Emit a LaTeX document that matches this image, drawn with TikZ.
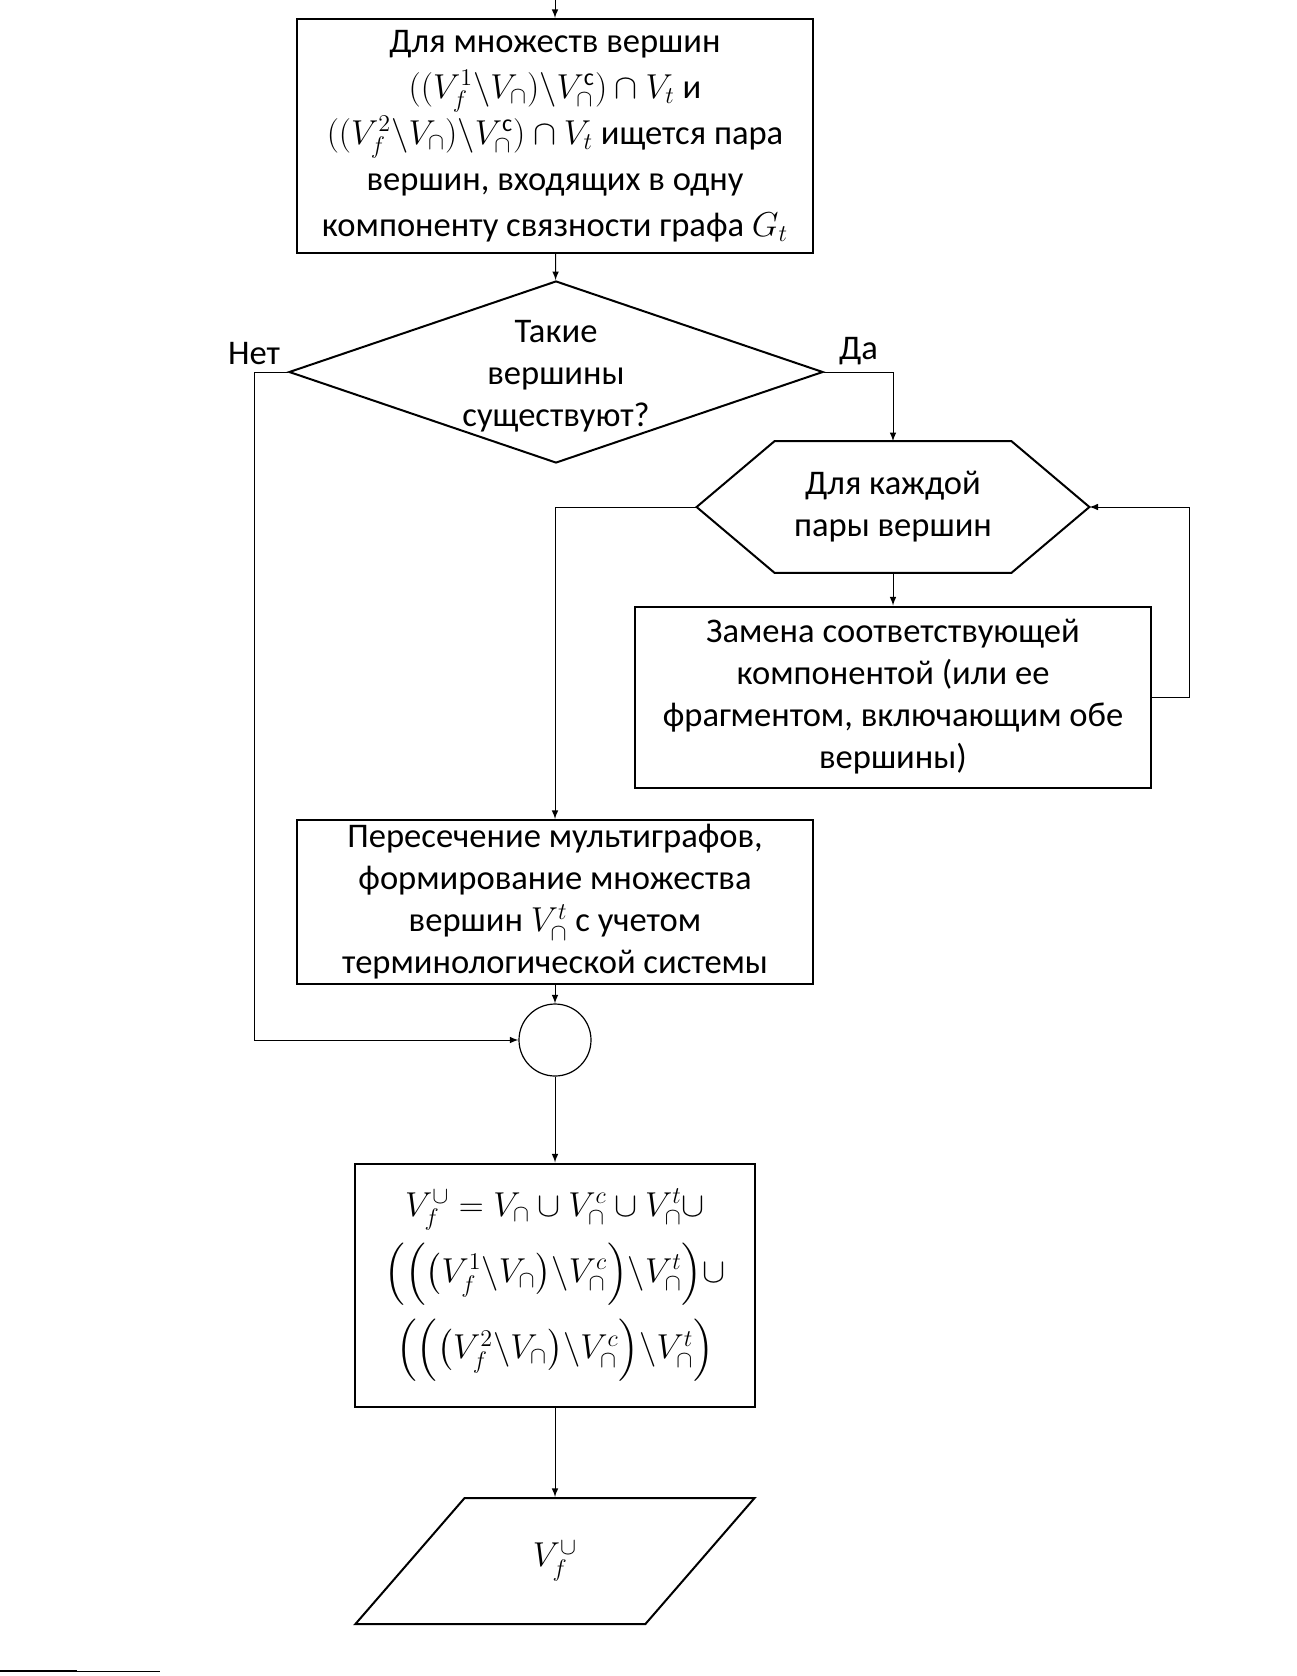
\documentclass[tikz,border=0pt]{standalone}
\usepackage{amsmath}
\usepackage{amssymb}
\usepackage{fontspec}
\setmainfont{Carlito}
\usetikzlibrary{shapes.geometric}
\tikzset{
  block/.style    = {shape=rectangle, draw, line width=1pt, align=center,
                     minimum width=258pt, inner sep=0pt},
  decision/.style = {shape=diamond, draw, line width=1pt,
                     minimum width=267pt, minimum height=91pt, inner sep=0pt},
  hexbox/.style   = {shape=rectangle, align=center, inner sep=0pt,
                     minimum width=118pt, minimum height=65.5pt},
  junction/.style = {shape=circle, draw, line width=0.6pt,
                     minimum size=36pt, inner sep=0pt},
  datanode/.style = {shape=trapezium, draw, line width=1pt,
                     trapezium left angle=57, trapezium right angle=123,
                     trapezium stretches=true,
                     minimum width=200pt, minimum height=63pt},
  flow/.style     = {draw, -latex, line width=0.5pt}
}

\begin{document}
\begin{tikzpicture}
  [
    x=0.5pt, y=-0.5pt,
    every node/.style = {font=\fontsize{17.28}{21}\selectfont}
  ]
  \useasboundingbox (0,0) rectangle (1296,1676);
  \coordinate (start) at (555,0);
  \node [block, minimum height=117pt, font=\fontsize{17.28}{23}\selectfont] (search) at (555,136)
    {Для множеств вершин\\
     $((V_f^1\backslash V_\cap)\backslash V_\cap^{\mathrm{c}})\cap V_t$ и\\
     $((V_f^2\backslash V_\cap)\backslash V_\cap^{\mathrm{c}})\cap V_t$ ищется пара\\
     вершин, входящих в одну\\
     компоненту связности графа $G_t$};
  \node [decision] (exist) at (556,372) {};
  \node [align=center, yshift=-2pt] (existtext) at (exist) {Такие\\вершины\\существуют?};
  \node [hexbox] (each) at (893,507) {Для каждой\\пары вершин};
  \draw [line width=1pt] (each.north west) -- (each.north east)
    -- ([xshift=39pt]each.east) coordinate (eachE)
    -- (each.south east) -- (each.south west)
    -- ([xshift=-39pt]each.west) coordinate (eachW) -- cycle;
  \node [block, minimum height=90.5pt] (replace) at (893,697)
    {Замена соответствующей\\компонентой (или ее\\фрагментом, включающим обе\\вершины)};
  \node [block, minimum height=82pt] (cross) at (555,902)
    {Пересечение мультиграфов,\\формирование множества\\вершин $V_\cap^t$ с учетом\\терминологической системы};
  \node [junction] (merge) at (555,1040) {};
  \node [block, minimum width=200pt, minimum height=121.5pt] (union) at (555,1285)
    {$V_f^{\cup}=V_\cap\cup V_\cap^c\cup V_\cap^t\cup$\\[5pt]
     $\Bigl(\Bigl(\bigl(V_f^1\backslash V_\cap\bigr)\backslash V_\cap^c\Bigr)\backslash V_\cap^t\Bigr)\cup$\\[6pt]
     $\Bigl(\Bigl(\bigl(V_f^2\backslash V_\cap\bigr)\backslash V_\cap^c\Bigr)\backslash V_\cap^t\Bigr)$};
  \node [datanode] (result) at (555,1561) {$V_f^{\cup}$};

  \coordinate (noturn) at (254,372);
  \draw [flow] (start) -- (search);
  \draw [flow] (search) -- (exist);
  \draw [flow] (exist.west) -- (noturn) node [above] (no) {Нет} |- (merge.west);
  \draw [flow] (exist.east) -| node [pos=0.25, above] (yes) {Да} (each.north);
  \draw [flow] (each) -- (replace);
  \draw [flow] (replace.east) -- ++(37,0) |- (eachE);
  \draw [flow] (eachW) -| (cross.north);
  \draw [flow] (cross) -- (merge);
  \draw [flow] (merge) -- (union);
  \draw [flow] (union) -- (result);

  \draw [line width=1pt] (0,1671) -- (77,1671);
  \draw [line width=0.5pt] (77,1671) -- (160,1671);
\end{tikzpicture}
\end{document}
